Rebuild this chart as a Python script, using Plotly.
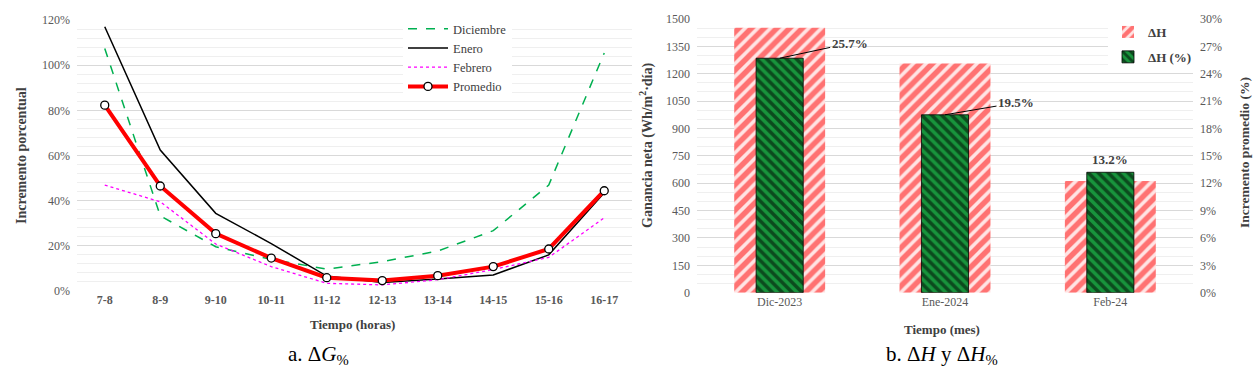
import plotly.graph_objects as go

# ---------------- data ----------------
horas = ["7-8", "8-9", "9-10", "10-11", "11-12", "12-13", "13-14", "14-15", "15-16", "16-17"]
diciembre = [1.074, 0.333, 0.196, 0.140, 0.097, 0.130, 0.177, 0.267, 0.469, 1.054]
enero = [1.170, 0.624, 0.344, 0.210, 0.066, 0.038, 0.053, 0.071, 0.160, 0.435]
febrero = [0.469, 0.395, 0.208, 0.108, 0.034, 0.027, 0.050, 0.095, 0.149, 0.324]
promedio = [0.823, 0.465, 0.254, 0.146, 0.059, 0.046, 0.068, 0.108, 0.186, 0.444]

meses = ["Dic-2023", "Ene-2024", "Feb-24"]
delta_h = [1452, 1256, 612]
delta_h_pct = [25.7, 19.5, 13.2]

W, H = 1255, 371
SERIF = "Liberation Serif, Times New Roman, serif"
TICK = "#595959"
TITLE = "#404040"

def px_x(p):
    return p / W

def px_y(p):
    return 1 - p / H

fig = go.Figure()

# ---------------- left chart ----------------
fig.add_trace(go.Scatter(x=horas, y=diciembre, name="Diciembre", mode="lines",
                         line=dict(color="#00b050", width=1.5, dash="dash"),
                         xaxis="x", yaxis="y", legend="legend"))
fig.add_trace(go.Scatter(x=horas, y=enero, name="Enero", mode="lines",
                         line=dict(color="#000000", width=1.5),
                         xaxis="x", yaxis="y", legend="legend"))
fig.add_trace(go.Scatter(x=horas, y=febrero, name="Febrero", mode="lines",
                         line=dict(color="#ff00ff", width=1.3, dash="dot"),
                         xaxis="x", yaxis="y", legend="legend"))
fig.add_trace(go.Scatter(x=horas, y=promedio, name="Promedio", mode="lines+markers",
                         line=dict(color="#ff0000", width=4),
                         marker=dict(symbol="circle", size=8, color="white",
                                     line=dict(color="black", width=1.3)),
                         xaxis="x", yaxis="y", legend="legend"))

# ---------------- right chart ----------------
fig.add_trace(go.Bar(x=meses, y=delta_h, name="ΔH", width=0.55, legendgroup="a",
                     marker=dict(color="#ffe4e4", opacity=1, line=dict(width=0),
                                 pattern=dict(shape="/", fgcolor="#ff0000", bgcolor="#ffe4e4",
                                              size=9, solidity=0.6)),
                     xaxis="x2", yaxis="y2", legend="legend2"))
fig.add_trace(go.Bar(x=meses, y=delta_h_pct, name="ΔH (%)", width=0.285, legendgroup="b",
                     marker=dict(color="#18943c", opacity=1, line=dict(color="black", width=0.8),
                                 pattern=dict(shape="\\", fgcolor="#000000", bgcolor="#18943c",
                                              size=7, solidity=0.5)),
                     xaxis="x2", yaxis="y3", legend="legend2"))

grid_major = "#d9d9d9"
grid_minor = "#efefef"

fig.update_layout(
    width=W, height=H,
    margin=dict(l=0, r=0, t=0, b=0, autoexpand=False),
    paper_bgcolor="white", plot_bgcolor="white",
    barmode="overlay",
    font=dict(family=SERIF, color=TICK, size=12),
    xaxis=dict(domain=[px_x(77), px_x(632)], type="category", range=[-0.5, 9.5],
               showgrid=False, ticks="", showline=False, anchor="y", automargin=False,
               tickfont=dict(family=SERIF, size=12, color=TICK, weight="bold")),
    yaxis=dict(domain=[px_y(291), px_y(20)], range=[0, 1.2], dtick=0.2, tickformat=".0%",
               showgrid=True, gridcolor=grid_major, gridwidth=1, zeroline=False, automargin=False,
               minor=dict(dtick=0.04, showgrid=True, gridcolor=grid_minor, gridwidth=1),
               tickfont=dict(family=SERIF, size=12, color=TICK), anchor="x", ticklabelstandoff=6),
    xaxis2=dict(domain=[px_x(697), px_x(1193)], type="category", range=[-0.5, 2.5],
                showgrid=False, ticks="", showline=False, anchor="y2", automargin=False,
                tickfont=dict(family=SERIF, size=12, color=TICK)),
    yaxis2=dict(domain=[px_y(292.7), px_y(19)], range=[0, 1500], dtick=150,
                showgrid=True, gridcolor=grid_major, zeroline=False, automargin=False,
                minor=dict(dtick=50, showgrid=True, gridcolor=grid_minor),
                tickfont=dict(family=SERIF, size=12, color=TICK), anchor="x2", ticklabelstandoff=6),
    yaxis3=dict(range=[0, 30], dtick=3, ticksuffix="%", overlaying="y2", side="right",
                showgrid=False, zeroline=False, anchor="x2", automargin=False,
                tickfont=dict(family=SERIF, size=12, color=TICK), ticklabelstandoff=6),
    legend=dict(x=px_x(403), y=px_y(14), xanchor="left", yanchor="top",
                bgcolor="white", borderwidth=0, tracegroupgap=0,
                font=dict(family=SERIF, size=12.5, color=TITLE), itemwidth=40),
    legend2=dict(x=px_x(1108), y=px_y(17), xanchor="left", yanchor="top",
                 bgcolor="white", borderwidth=0, tracegroupgap=5, traceorder="grouped",
                 font=dict(family=SERIF, size=13, color=TITLE, weight="bold"), itemwidth=30),
)

annotations = []

def title_ann(text, x, y, angle=0, size=13):
    annotations.append(dict(text=text, x=px_x(x), y=px_y(y), xref="paper", yref="paper",
                            showarrow=False, textangle=angle, xanchor="center", yanchor="middle",
                            font=dict(family=SERIF, size=size, color=TITLE, weight="bold")))

title_ann("Incremento porcentual", 21, 156, -90, 14)
title_ann("Tiempo (horas)", 352, 324)
title_ann("Ganancia neta (Wh/m<sup>2</sup>·día)", 646, 146, -90, 14)
title_ann("Incremento promedio (%)", 1244, 153, -90, 13.5)
title_ann("Tiempo (mes)", 942, 329)

# captions
annotations.append(dict(text="a. Δ<i>G</i><sub>%</sub>", x=px_x(318), y=px_y(355), xref="paper", yref="paper",
                        showarrow=False, xanchor="center", yanchor="middle",
                        font=dict(family=SERIF, size=21, color="black")))
annotations.append(dict(text="b. Δ<i>H</i> y Δ<i>H</i><sub>%</sub>", x=px_x(942), y=px_y(355), xref="paper", yref="paper",
                        showarrow=False, xanchor="center", yanchor="middle",
                        font=dict(family=SERIF, size=21, color="black")))

# data labels on the % bars
offsets = [(70, -15), (71, -12), None]
for m, v, off in zip(meses, delta_h_pct, offsets):
    label = f"{v:.1f}%"
    if off is not None:
        annotations.append(dict(text=label, x=m, y=v, xref="x2", yref="y3",
                                showarrow=True, arrowhead=0, arrowwidth=1, arrowcolor="black",
                                ax=off[0], ay=off[1], standoff=0,
                                font=dict(family=SERIF, size=13, color=TITLE, weight="bold")))
    else:
        annotations.append(dict(text=label, x=m, y=v, xref="x2", yref="y3",
                                showarrow=False, yanchor="bottom", yshift=3,
                                font=dict(family=SERIF, size=13, color=TITLE, weight="bold")))

fig.update_layout(annotations=annotations)

fig.write_html("out.html", config={"displayModeBar": False},
               post_script="document.body.style.margin='0';document.body.style.overflow='hidden';")
